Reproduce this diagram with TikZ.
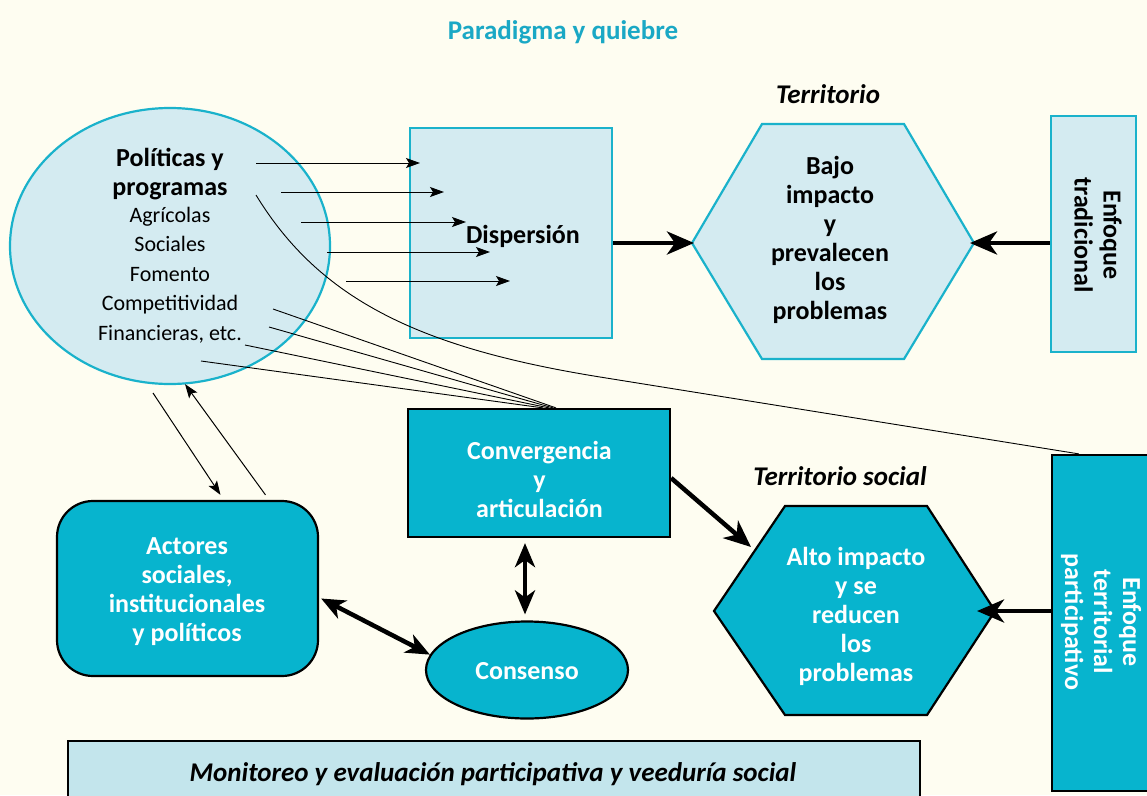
\documentclass[tikz,border=0pt]{standalone}
\usepackage{fontspec}
\setmainfont{Carlito}
\usetikzlibrary{arrows.meta,shapes.geometric,calc}
\definecolor{bgc}{HTML}{FEFDF1}
\definecolor{lightb}{HTML}{D4EBF1}
\definecolor{tealb}{HTML}{1AB2CB}
\definecolor{tealf}{HTML}{07B4CE}
\definecolor{botf}{HTML}{C3E5EC}
\definecolor{titlec}{HTML}{1AA8C5}
\begin{document}
\begin{tikzpicture}[x=1pt,y=-1pt,
  lightbox/.style={draw=tealb,fill=lightb,line width=2.2pt},
  darkbox/.style={draw=black,fill=tealf,line width=2.2pt},
  boldtxt/.style={font=\bfseries\fontsize{26}{29}\selectfont,align=center,inner sep=0pt},
  whitetxt/.style={boldtxt,text=white},
  regtxt/.style={font=\fontsize{22}{29.5}\selectfont,align=center,inner sep=0pt},
  itxt/.style={font=\bfseries\itshape\fontsize{27}{30}\selectfont,inner sep=0pt},
  thinarr/.style={line width=1pt,-{Stealth[length=14pt,width=10pt,inset=3pt]}},
  thinline/.style={line width=0.9pt},
  thickarr/.style={line width=4.5pt,-{Stealth[length=27pt,width=23pt,inset=8pt]}},
  dblarr/.style={line width=4.5pt,{Stealth[length=24pt,width=20pt,inset=7pt]}-{Stealth[length=24pt,width=20pt,inset=7pt]}}
]
\useasboundingbox (0,0) rectangle (1147,795);
\fill[bgc] (0,0) rectangle (1147,795);
\clip (0,0) rectangle (1147,795);

% title
\node[font=\bfseries\fontsize{27}{30}\selectfont,text=titlec,inner sep=0pt] (title) at (563,32) {Paradigma y quiebre};

% ellipse Politicas
\node[ellipse,lightbox,minimum width=320pt,minimum height=276pt,inner sep=0pt] (pol) at (170,246) {};
\node[boldtxt] (poltitle) at (170,174) {Políticas y\\programas};
\node[regtxt] (pollist) at (170,275) {Agrícolas\\Sociales\\Fomento\\Competitividad\\Financieras, etc.};

% Dispersion box
\node[rectangle,lightbox,minimum width=202pt,minimum height=210pt,inner sep=0pt] (disp) at (511,233) {};
\node[boldtxt] (disptxt) at (523,236) {Dispersión};

% hexagon 1
\coordinate (h1l) at (692,243);
\coordinate (h1tl) at (762,124);
\coordinate (h1tr) at (904,124);
\coordinate (h1r) at (974,243);
\coordinate (h1br) at (904,359);
\coordinate (h1bl) at (762,359);
\draw[lightbox,line join=miter] (h1l) -- (h1tl) -- (h1tr) -- (h1r) -- (h1br) -- (h1bl) -- cycle;
\node[boldtxt] (h1txt) at (830,240) {Bajo\\impacto\\y\\prevalecen\\los\\problemas};
\node[itxt] (terr) at (828,94) {Territorio};

% Enfoque tradicional
\node[rectangle,lightbox,minimum width=85pt,minimum height=236pt,inner sep=0pt] (et) at (1093.5,234) {};
\node[boldtxt,rotate=-90] (ettxt) at (1098,235) {Enfoque\\tradicional};

% Convergencia
\node[rectangle,darkbox,minimum width=262pt,minimum height=128pt,inner sep=0pt] (conv) at (539,473) {};
\node[whitetxt] (convtxt) at (539.5,479) {Convergencia\\y\\articulación};

% hexagon 2
\coordinate (h2l) at (714,611);
\coordinate (h2tl) at (785,506);
\coordinate (h2tr) at (927,506);
\coordinate (h2r) at (995,611);
\coordinate (h2br) at (927,715);
\coordinate (h2bl) at (785,715);
\draw[darkbox,line join=miter] (h2l) -- (h2tl) -- (h2tr) -- (h2r) -- (h2br) -- (h2bl) -- cycle;
\node[whitetxt] (h2txt) at (856,616) {Alto impacto\\y se\\reducen\\los\\problemas};
\node[itxt] (terrs) at (840,476) {Territorio social};

% Enfoque territorial participativo
\node[rectangle,darkbox,minimum width=108pt,minimum height=336pt,inner sep=0pt] (etp) at (1106,623) {};
\node[whitetxt,rotate=-90] (etptxt) at (1101,622) {Enfoque\\territorial\\participativo};

% Actores
\node[rectangle,darkbox,rounded corners=36pt,minimum width=261pt,minimum height=175pt,inner sep=0pt] (act) at (187.5,588.5) {};
\node[whitetxt] (acttxt) at (187,592) {Actores\\sociales,\\institucionales\\y políticos};

% Consenso
\node[ellipse,darkbox,minimum width=202pt,minimum height=97pt,inner sep=0pt] (cons) at (527,670) {};
\node[whitetxt] (constxt) at (527,671) {Consenso};

% bottom box
\node[rectangle,draw=black,fill=botf,line width=2pt,minimum width=852pt,minimum height=70pt,inner sep=0pt] (mon) at (494,776) {};
\node[itxt] (montxt) at (493,774) {Monitoreo y evaluación participativa y veeduría social};

% thin arrows into Dispersion
\foreach \i/\a/\b/\y in {1/256/420/163,2/281/444/192,3/301/466/222,4/327/490/252,5/346/510/281}{
  \coordinate (ps\i) at (\a,\y);
  \coordinate (pe\i) at (\b,\y);
  \draw[thinarr] (ps\i) -- (pe\i);
}

% thin lines to Convergencia
\coordinate (cl1) at (273,309);
\coordinate (cl2) at (269,327);
\coordinate (cl3) at (245,345);
\coordinate (cl4) at (201,361);
\draw[thinline] (cl1) -- ([xshift=17pt]conv.north);
\draw[thinline] (cl2) -- ([xshift=14pt]conv.north);
\draw[thinline] (cl3) -- ([xshift=10pt]conv.north);
\draw[thinline] (cl4) -- ([xshift=4pt]conv.north);

% long curve to Enfoque territorial participativo
\coordinate (cv0) at (256,195);
\draw[thinline] (cv0) .. controls (320,300) and (420,348) .. (600,377) -- ([xshift=28pt]etp.north west);

% thick arrows
\draw[thickarr] (disp.east |- h1l) -- ([xshift=2pt]h1l);
\draw[thickarr] (et.west |- h1r) -- ([xshift=-4pt]h1r);
\coordinate (h2in) at (751,547);
\draw[thickarr] ([yshift=-5pt]conv.east) -- (h2in);
\draw[thickarr] (etp.west |- h2r) -- ([xshift=-18pt]h2r);

% thin arrows between ellipse and Actores
\coordinate (ta1) at (153,393);
\draw[thinarr] (ta1) -- ([xshift=33pt,yshift=5pt]act.north);
\draw[thinarr] ([xshift=78pt,yshift=5pt]act.north) -- ([xshift=15pt,yshift=1pt]pol.south);

% double arrows
\draw[dblarr] ([xshift=-14pt,yshift=-5pt]conv.south) -- ([xshift=-2pt,yshift=6pt]cons.north);
\draw[dblarr] ([yshift=-10pt,xshift=2pt]act.east) -- (cons.171);
\end{tikzpicture}
\end{document}
